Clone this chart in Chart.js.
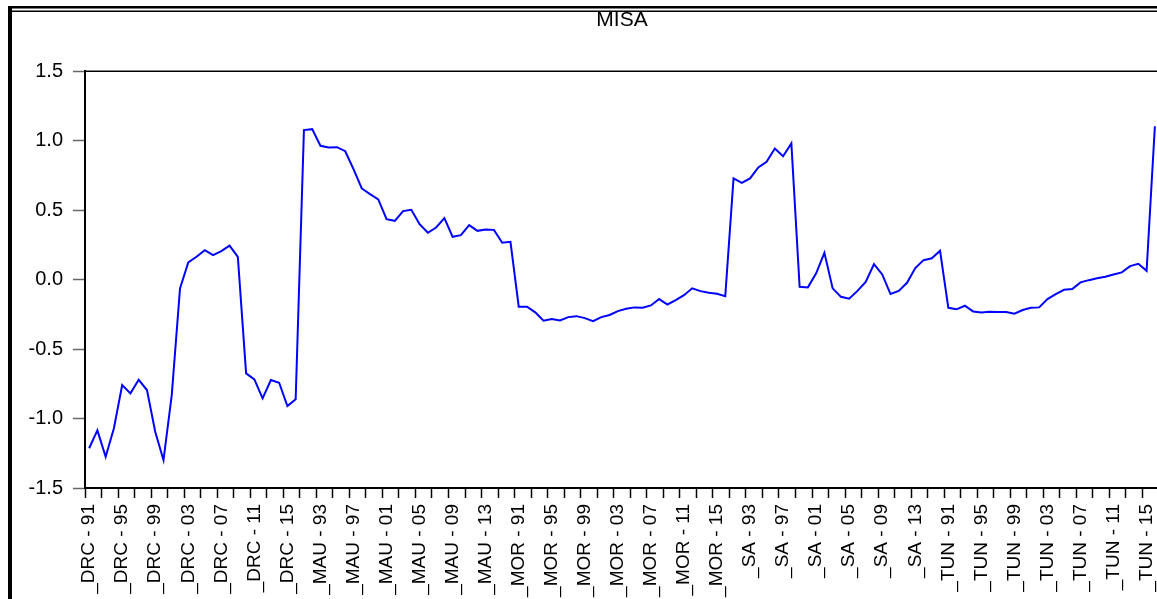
<!DOCTYPE html>
<html>
<head>
<meta charset="utf-8">
<title>MISA</title>
<script src="https://cdn.jsdelivr.net/npm/chart.js@4/dist/chart.umd.min.js"></script>
<style>
    html, body { margin: 0; padding: 0; background: #fff; overflow: hidden; }
    #misaChart { display: block; }
</style>
</head>
<body>
<canvas id="misaChart" width="1159" height="599"></canvas>
<script>
// Países y años (cada país cubre 1991-2016)
const countries = ["DRC", "MAU", "MOR", "SA", "TUN"];
const years = ["91", "92", "93", "94", "95", "96", "97", "98", "99", "00", "01", "02", "03",
    "04", "05", "06", "07", "08", "09", "10", "11", "12", "13", "14", "15", "16"];

// Valores MISA, por país
const drc = [-1.214, -1.085, -1.275, -1.07, -0.759, -0.819, -0.721, -0.795, -1.095, -1.299, -0.831, -0.063, 0.124,
    0.164, 0.212, 0.176, 0.205, 0.245, 0.164, -0.675, -0.718, -0.855, -0.723, -0.742, -0.910, -0.862];
const mau = [1.076, 1.083, 0.963, 0.951, 0.953, 0.924, 0.795, 0.656, 0.615, 0.577, 0.435, 0.423, 0.493,
    0.502, 0.399, 0.337, 0.375, 0.442, 0.308, 0.320, 0.392, 0.351, 0.361, 0.358, 0.265, 0.272];
const mor = [-0.195, -0.195, -0.236, -0.296, -0.284, -0.294, -0.270, -0.263, -0.277, -0.299, -0.270, -0.255, -0.227,
    -0.210, -0.200, -0.203, -0.186, -0.140, -0.179, -0.147, -0.112, -0.063, -0.083, -0.095, -0.102, -0.119];
const sa = [0.728, 0.697, 0.728, 0.807, 0.848, 0.944, 0.888, 0.980, -0.052, -0.056, 0.045, 0.193, -0.063,
    -0.124, -0.138, -0.081, -0.016, 0.112, 0.037, -0.104, -0.081, -0.023, 0.083, 0.140, 0.153, 0.207];
const tun = [-0.203, -0.214, -0.188, -0.229, -0.236, -0.232, -0.234, -0.234, -0.246, -0.219, -0.203, -0.200, -0.140,
    -0.104, -0.073, -0.068, -0.020, -0.004, 0.009, 0.020, 0.037, 0.052, 0.097, 0.114, 0.063, 1.104];

const yTicks = [-1.5, -1.0, -0.5, 0.0, 0.5, 1.0, 1.5];

const labels = [];
countries.forEach((c) => years.forEach((y) => labels.push("_" + c + " - " + y)));
const values = [].concat(drc, mau, mor, sa, tun);

// Marco exterior y borde superior del área del gráfico
const framePlugin = {
    id: "frame",
    afterDraw(chart) {
        const ctx = chart.ctx;
        const area = chart.chartArea;
        ctx.save();
        ctx.fillStyle = "#000";
        ctx.fillRect(8, 6, chart.width, 2.5);
        ctx.fillRect(8, 10.5, chart.width, 1.5);
        ctx.fillRect(8, 6, 4, chart.height);
        ctx.strokeStyle = "#000";
        ctx.lineWidth = 1.5;
        ctx.beginPath();
        ctx.moveTo(area.left, area.top);
        ctx.lineTo(chart.width, area.top);
        ctx.stroke();
        ctx.restore();
    },
};

const ctx = document.getElementById("misaChart").getContext("2d");
new Chart(ctx, {
    type: "line",
    data: {
        labels: labels,
        datasets: [
            {
                label: "MISA",
                data: values,
                borderColor: "#0000ff",
                backgroundColor: "#0000ff",
                borderWidth: 2,
                pointRadius: 0,
                tension: 0,
                fill: false,
            },
        ],
    },
    options: {
        responsive: false,
        devicePixelRatio: 1,
        animation: false,
        layout: { padding: 0 },
        plugins: {
            legend: { display: false },
            tooltip: { enabled: false },
            title: {
                display: true,
                text: "MISA",
                fullSize: false,
                color: "#000",
                font: { family: "'Liberation Sans', Arial, sans-serif", size: 21, weight: "normal", lineHeight: 1.2 },
                padding: { top: 8, bottom: 38 },
            },
        },
        scales: {
            x: {
                type: "category",
                offset: true,
                border: { color: "#000", width: 2 },
                grid: {
                    offset: true,
                    drawOnChartArea: false,
                    drawTicks: true,
                    tickLength: 10,
                    tickWidth: 1.5,
                    tickColor: (c) => (c.index % 2 === 0 ? "#000" : "rgba(0,0,0,0)"),
                },
                ticks: {
                    autoSkip: false,
                    maxRotation: 90,
                    minRotation: 90,
                    padding: 6,
                    color: "#000",
                    font: { family: "'Liberation Sans', Arial, sans-serif", size: 19 },
                    callback: function (value, index) {
                        return index % 4 === 0 ? this.getLabelForValue(value) : "";
                    },
                },
                afterFit: (scale) => {
                    scale.height = 111;
                    scale.paddingLeft = 0;
                    scale.paddingRight = 0;
                },
            },
            y: {
                min: yTicks[0],
                max: yTicks[yTicks.length - 1],
                border: { color: "#000", width: 2 },
                grid: {
                    drawOnChartArea: false,
                    drawTicks: true,
                    tickLength: 12,
                    tickWidth: 1.5,
                    tickColor: "#666",
                },
                afterBuildTicks: (scale) => { scale.ticks = yTicks.map((v) => ({ value: v })); },
                ticks: {
                    padding: 10,
                    color: "#000",
                    font: { family: "'Liberation Sans', Arial, sans-serif", size: 20 },
                    callback: (value) => value.toFixed(1),
                },
                afterFit: (scale) => {
                    scale.width = 85;
                    scale.paddingTop = 0;
                    scale.paddingBottom = 0;
                },
            },
        },
    },
    plugins: [framePlugin],
});
</script>
</body>
</html>
